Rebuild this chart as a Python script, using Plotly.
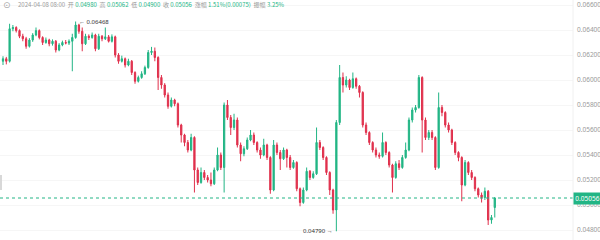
import plotly.graph_objects as go

first_open = 0.06150
last_open = 0.04980

closes = [
    0.06170, 0.06150, 0.06410, 0.06420, 0.06395, 0.06350, 0.06330, 0.06270, 0.06320, 0.06360,
    0.06395, 0.06340, 0.06300, 0.06320, 0.06290, 0.06310, 0.06240, 0.06280, 0.06300, 0.06295,
    0.06310, 0.06340, 0.06440, 0.06390, 0.06290, 0.06350, 0.06340, 0.06360, 0.06250, 0.06350,
    0.06330, 0.06345, 0.06310, 0.06345, 0.06200, 0.06150, 0.06170, 0.06120, 0.06150, 0.06060,
    0.05990, 0.06020, 0.06050, 0.06100, 0.06220, 0.06230, 0.06180, 0.06020, 0.05960, 0.05880,
    0.05790, 0.05840, 0.05810, 0.05640, 0.05560, 0.05500, 0.05440, 0.05540, 0.05280, 0.05180,
    0.05260, 0.05220, 0.05200, 0.05170, 0.05280, 0.05400, 0.05300, 0.05800, 0.05700, 0.05620,
    0.05680, 0.05480, 0.05410, 0.05450, 0.05520, 0.05560, 0.05500, 0.05440, 0.05400, 0.05480,
    0.05380, 0.05120, 0.05480, 0.05420, 0.05370, 0.05440, 0.05380, 0.05300, 0.05340, 0.05130,
    0.05020, 0.05120, 0.05270, 0.05220, 0.05250, 0.05500, 0.05460, 0.05380, 0.05260, 0.05120,
    0.04960, 0.05660, 0.06020, 0.05960, 0.06000, 0.05940, 0.06010, 0.05950, 0.05900, 0.05640,
    0.05580, 0.05500, 0.05440, 0.05400, 0.05390, 0.05500, 0.05420, 0.05320, 0.05220, 0.05330,
    0.05300, 0.05380, 0.05440, 0.05680, 0.05760, 0.05780, 0.06020, 0.05680, 0.05540, 0.05580,
    0.05540, 0.05300, 0.05780, 0.05740, 0.05640, 0.05600, 0.05500, 0.05420, 0.05380, 0.05160,
    0.05340, 0.05260, 0.05220, 0.05130, 0.05080, 0.05060, 0.05110, 0.04880, 0.04900, 0.05056,
]

highs = [
    0.06190, 0.06185, 0.06450, 0.06440, 0.06430, 0.06405, 0.06370, 0.06345, 0.06335, 0.06375,
    0.06420, 0.06405, 0.06350, 0.06340, 0.06330, 0.06325, 0.06320, 0.06295, 0.06315, 0.06320,
    0.06325, 0.06370, 0.06468, 0.06450, 0.06420, 0.06370, 0.06365, 0.06380, 0.06370, 0.06370,
    0.06360, 0.06420, 0.06360, 0.06365, 0.06355, 0.06215, 0.06195, 0.06180, 0.06170, 0.06160,
    0.06070, 0.06035, 0.06070, 0.06115, 0.06240, 0.06265, 0.06260, 0.06190, 0.06040, 0.05975,
    0.05900, 0.05860, 0.05850, 0.05820, 0.05650, 0.05570, 0.05520, 0.05570, 0.05550, 0.05300,
    0.05300, 0.05280, 0.05240, 0.05260, 0.05300, 0.05460, 0.05420, 0.05820, 0.05840, 0.05720,
    0.05730, 0.05700, 0.05500, 0.05470, 0.05540, 0.05600, 0.05580, 0.05510, 0.05460, 0.05530,
    0.05490, 0.05390, 0.05520, 0.05500, 0.05440, 0.05460, 0.05450, 0.05400, 0.05360, 0.05350,
    0.05140, 0.05140, 0.05300, 0.05280, 0.05270, 0.05620, 0.05520, 0.05470, 0.05390, 0.05270,
    0.05130, 0.05680, 0.06120, 0.06060, 0.06030, 0.06010, 0.06060, 0.06020, 0.05960, 0.05910,
    0.05660, 0.05590, 0.05510, 0.05460, 0.05420, 0.05580, 0.05510, 0.05430, 0.05330, 0.05350,
    0.05360, 0.05400, 0.05500, 0.05700, 0.05780, 0.05800, 0.06040, 0.06030, 0.05700, 0.05600,
    0.05600, 0.05550, 0.05900, 0.05800, 0.05750, 0.05660, 0.05610, 0.05510, 0.05430, 0.05390,
    0.05360, 0.05350, 0.05280, 0.05230, 0.05140, 0.05100, 0.05140, 0.05120, 0.04920, 0.05062,
]

lows = [
    0.06120, 0.06125, 0.06140, 0.06390, 0.06380, 0.06335, 0.06310, 0.06250, 0.06260, 0.06305,
    0.06350, 0.06325, 0.06280, 0.06290, 0.06270, 0.06275, 0.06220, 0.06230, 0.06270, 0.06285,
    0.06280, 0.06070, 0.06330, 0.06370, 0.06230, 0.06280, 0.06320, 0.06330, 0.06230, 0.06240,
    0.06310, 0.06320, 0.06300, 0.06300, 0.06180, 0.06130, 0.06140, 0.06100, 0.06110, 0.06040,
    0.05970, 0.05980, 0.06010, 0.06040, 0.06090, 0.06200, 0.06150, 0.05920, 0.05930, 0.05860,
    0.05770, 0.05780, 0.05790, 0.05620, 0.05500, 0.05470, 0.05420, 0.05430, 0.05100, 0.05160,
    0.05170, 0.05200, 0.05180, 0.05150, 0.05160, 0.05270, 0.05280, 0.05100, 0.05680, 0.05560,
    0.05600, 0.05460, 0.05350, 0.05390, 0.05440, 0.05510, 0.05480, 0.05420, 0.05370, 0.05390,
    0.05360, 0.05090, 0.05110, 0.05400, 0.05280, 0.05360, 0.05300, 0.05280, 0.05290, 0.05110,
    0.04990, 0.05010, 0.05110, 0.05200, 0.05210, 0.05240, 0.05440, 0.05360, 0.05240, 0.05080,
    0.04930, 0.04790, 0.05640, 0.05900, 0.05940, 0.05920, 0.05930, 0.05930, 0.05860, 0.05620,
    0.05560, 0.05480, 0.05420, 0.05380, 0.05370, 0.05380, 0.05400, 0.05300, 0.05100, 0.05210,
    0.05280, 0.05290, 0.05370, 0.05430, 0.05660, 0.05740, 0.05770, 0.05420, 0.05520, 0.05520,
    0.05520, 0.05280, 0.05290, 0.05710, 0.05620, 0.05580, 0.05480, 0.05400, 0.05350, 0.05030,
    0.05150, 0.05240, 0.05200, 0.05110, 0.05060, 0.05020, 0.05040, 0.04840, 0.04850, 0.04900,
]

opens = [first_open] + closes[:-1]
opens[-1] = last_open

y_ticks = [0.048, 0.050, 0.052, 0.054, 0.056, 0.058, 0.060, 0.062, 0.064, 0.066]
y_tick_labels = ["0.04800", "0.05000", "0.05200", "0.05400", "0.05600",
                 "0.05800", "0.06000", "0.06200", "0.06400", "0.06600"]

last_price = 0.05056
hi_val, hi_idx = 0.06468, 22
lo_val, lo_idx = 0.04790, 101

GREEN = "#22b585"
RED = "#e0304c"
idx = list(range(len(closes)))

fig = go.Figure()
fig.add_trace(go.Candlestick(
    x=idx, open=opens, high=highs, low=lows, close=closes,
    increasing=dict(line=dict(color=GREEN, width=1), fillcolor=GREEN),
    decreasing=dict(line=dict(color=RED, width=1), fillcolor=RED),
    whiskerwidth=0, showlegend=False, hoverinfo="skip",
))

# current price dotted line
fig.add_shape(type="line", xref="paper", x0=0, x1=1, yref="y", y0=last_price, y1=last_price,
              line=dict(color=GREEN, width=1, dash="dot"))
# right border line
fig.add_shape(type="line", xref="paper", x0=1, x1=1, yref="paper", y0=0, y1=1,
              line=dict(color="#f0f0f0", width=1))
# left handle
fig.add_shape(type="rect", xref="paper", x0=0, x1=2/573, yref="paper",
              y0=1-190/240, y1=1-175/240, fillcolor="#d8d8d8", line=dict(width=0))

header = ("<span style='color:#9a9a9a'>2024-04-08 08:00 &nbsp;开 </span>"
          "<span style='color:%s'>0.04980</span>"
          "<span style='color:#9a9a9a'> &nbsp;高 </span><span style='color:%s'>0.05062</span>"
          "<span style='color:#9a9a9a'> &nbsp;低 </span><span style='color:%s'>0.04900</span>"
          "<span style='color:#9a9a9a'> &nbsp;收 </span><span style='color:%s'>0.05056</span>"
          "<span style='color:#9a9a9a'> &nbsp;涨幅 </span><span style='color:%s'>1.51%%(0.00075)</span>"
          "<span style='color:#9a9a9a'> &nbsp;振幅 </span><span style='color:%s'>3.25%%</span>"
          ) % (GREEN, GREEN, GREEN, GREEN, GREEN, GREEN)

annotations = [
    dict(text=header, xref="paper", yref="paper", x=16/573, y=1-4.5/240,
         xanchor="left", yanchor="middle", showarrow=False,
         font=dict(size=6, family="Noto Sans CJK SC, Noto Sans, sans-serif")),
    dict(text="⊙", xref="paper", yref="paper", x=7/573, y=1-4.5/240,
         xanchor="center", yanchor="middle", showarrow=False,
         font=dict(size=9, color="#aaaaaa", family="DejaVu Sans")),
    dict(text="← " + f"{hi_val:.5f}", x=hi_idx + 0.4, y=hi_val, xref="x", yref="y",
         xanchor="left", yanchor="middle", showarrow=False,
         font=dict(size=6, color="#333333", family="Noto Sans, sans-serif")),
    dict(text=f"{lo_val:.5f}" + " →", x=lo_idx - 0.4, y=lo_val, xref="x", yref="y",
         xanchor="right", yanchor="middle", showarrow=False,
         font=dict(size=6, color="#333333", family="Noto Sans, sans-serif")),
    dict(text=f"{last_price:.5f}", xref="paper", yref="y", x=1, y=last_price,
         xanchor="left", yanchor="middle", showarrow=False,
         bgcolor=GREEN, font=dict(size=6.5, color="white", family="Noto Sans, sans-serif"),
         borderpad=1, width=25),
]

fig.update_layout(
    width=600, height=240,
    margin=dict(l=0, r=27, t=0, b=0),
    paper_bgcolor="white", plot_bgcolor="white",
    boxgap=0.45,
    xaxis=dict(range=[-0.91, 172.7], showgrid=False, zeroline=False, showticklabels=False,
               rangeslider=dict(visible=False), fixedrange=True),
    yaxis=dict(range=[0.0472, 0.0664], side="right", tickvals=y_ticks, ticktext=y_tick_labels,
               showgrid=True, gridcolor="#f6f6f6", zeroline=False, ticks="",
               tickfont=dict(size=6.5, color="#9a9a9a", family="Noto Sans, sans-serif"),
               ticklabelstandoff=3),
    annotations=annotations,
    showlegend=False,
)

fig.write_html("out.html")
